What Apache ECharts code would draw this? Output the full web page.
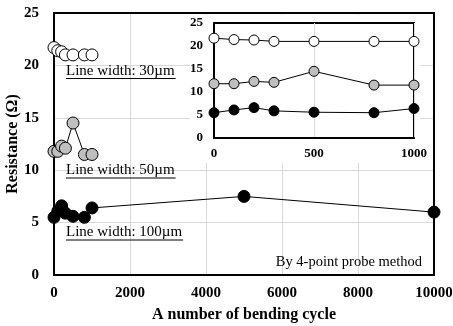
<!DOCTYPE html>
<html><head><meta charset="utf-8">
<script src="https://cdn.jsdelivr.net/npm/echarts@6/dist/echarts.min.js"></script>
<style>html,body{margin:0;padding:0;background:#fff}#c{width:453px;height:326px}</style>
</head><body><div id="c"></div>
<script>
const cycles30 = [0, 100, 200, 300, 500, 800, 1000];
const res30 = [21.7, 21.4, 21.3, 21.0, 21.0, 21.0, 21.0];
const cycles50 = [0, 100, 200, 300, 500, 800, 1000];
const res50 = [11.8, 11.8, 12.3, 12.1, 14.5, 11.5, 11.5];
const cycles100 = [0, 100, 200, 300, 500, 800, 1000, 5000, 10000];
const res100 = [5.5, 6.1, 6.6, 5.9, 5.6, 5.5, 6.4, 7.5, 6.0];
const labels = ['Line width: 30µm', 'Line width: 50µm', 'Line width: 100µm'];
const note = 'By 4-point probe method';
const xTitle = 'A number of bending cycle';
const yTitle = 'Resistance (Ω)';

const F = '"Liberation Serif", "Times New Roman", serif';
function pairs(xs, ys, maxX) {
  const out = [];
  xs.forEach((x, i) => { if (maxX === undefined || x <= maxX) out.push([x, ys[i]]); });
  return out;
}
function mk(name, xi, yi, data, fill, size, z) {
  return {
    name, type: 'line', xAxisIndex: xi, yAxisIndex: yi, data,
    symbol: 'circle', symbolSize: size, z: z,
    lineStyle: { color: '#000', width: 1 },
    itemStyle: { color: fill, borderColor: '#000', borderWidth: 1 },
    animation: false
  };
}
const chart = echarts.init(document.getElementById('c'));
const annots = [];
const baseY = [76, 175.5, 237.5];
const FS = 15;
const ctx = document.createElement('canvas').getContext('2d');
ctx.font = FS + 'px ' + F;
labels.forEach((t, i) => {
  const w = ctx.measureText(t).width;
  annots.push({ type: 'text', x: 66, y: baseY[i] - 5, z: 20,
    style: { text: t, font: FS + 'px ' + F, fill: '#000', textVerticalAlign: 'middle', verticalAlign: 'middle' } });
  annots.push({ type: 'line', z: 20, shape: { x1: 66, y1: baseY[i] + 2.5, x2: 66 + w + 1, y2: baseY[i] + 2.5 },
    style: { stroke: '#000', lineWidth: 1 } });
});
const fmt = v => String(v);
chart.setOption({
  animation: false,
  grid: [
    { left: 54, top: 13, right: 19, bottom: 51, show: true, borderColor: '#000', borderWidth: 2, z: 1, outerBoundsMode: 'none', containLabel: false },
    { left: 214, top: 23, width: 200, height: 115, show: true, borderColor: '#000', borderWidth: 2, backgroundColor: '#fff', z: 10, outerBoundsMode: 'none', containLabel: false }
  ],
  graphic: [
    { type: 'rect', shape: { x: 190, y: 15, width: 230, height: 148 }, style: { fill: '#fff' }, z: 5 },
    ...annots,
    { type: 'text', x: 422, y: 262, z: 20, style: { text: note, font: '14.5px ' + F, fill: '#000', textAlign: 'right', align: 'right', textVerticalAlign: 'middle', verticalAlign: 'middle' } }
  ],
  xAxis: [
    { type: 'value', gridIndex: 0, min: 0, max: 10000, interval: 2000,
      name: xTitle, nameLocation: 'middle', nameGap: 32, nameMoveOverlap: false,
      nameTextStyle: { fontFamily: F, fontWeight: 'bold', fontSize: 16, color: '#000' },
      axisLine: { show: true, lineStyle: { color: '#000', width: 2 } }, axisTick: { show: false },
      axisLabel: { fontFamily: F, fontWeight: 'bold', fontSize: 15, color: '#000', margin: 11, formatter: fmt },
      splitLine: { show: true, lineStyle: { color: '#d9d9d9', width: 1 } } },
    { type: 'value', gridIndex: 1, min: 0, max: 1000, interval: 500, z: 11,
      axisLine: { show: true, lineStyle: { color: '#000', width: 2 } }, axisTick: { show: false },
      axisLabel: { fontFamily: F, fontWeight: 'bold', fontSize: 13, color: '#000', margin: 9, formatter: fmt },
      splitLine: { show: true, lineStyle: { color: '#d9d9d9', width: 1 } } }
  ],
  yAxis: [
    { type: 'value', gridIndex: 0, min: 0, max: 25, interval: 5,
      name: yTitle, nameLocation: 'middle', nameGap: 33, nameMoveOverlap: false,
      nameTextStyle: { fontFamily: F, fontWeight: 'bold', fontSize: 16, color: '#000' },
      axisLine: { show: true, lineStyle: { color: '#000', width: 2 } }, axisTick: { show: false },
      axisLabel: { fontFamily: F, fontWeight: 'bold', fontSize: 15, color: '#000', margin: 15 },
      splitLine: { show: true, lineStyle: { color: '#d9d9d9', width: 1 } } },
    { type: 'value', gridIndex: 1, min: 0, max: 25, interval: 5, z: 11,
      axisLine: { show: true, lineStyle: { color: '#000', width: 2 } }, axisTick: { show: false },
      axisLabel: { fontFamily: F, fontWeight: 'bold', fontSize: 13, color: '#000', margin: 11 },
      splitLine: { show: false } }
  ],
  series: [
    mk('30', 0, 0, pairs(cycles30, res30), '#fff', 12, 2),
    mk('50', 0, 0, pairs(cycles50, res50), '#bfbfbf', 12, 2),
    mk('100', 0, 0, pairs(cycles100, res100), '#000', 12, 2),
    mk('30i', 1, 1, pairs(cycles30, res30, 1000), '#fff', 10, 12),
    mk('50i', 1, 1, pairs(cycles50, res50, 1000), '#bfbfbf', 10, 12),
    mk('100i', 1, 1, pairs(cycles100, res100, 1000), '#000', 10, 12)
  ]
});
</script>
</body></html>
